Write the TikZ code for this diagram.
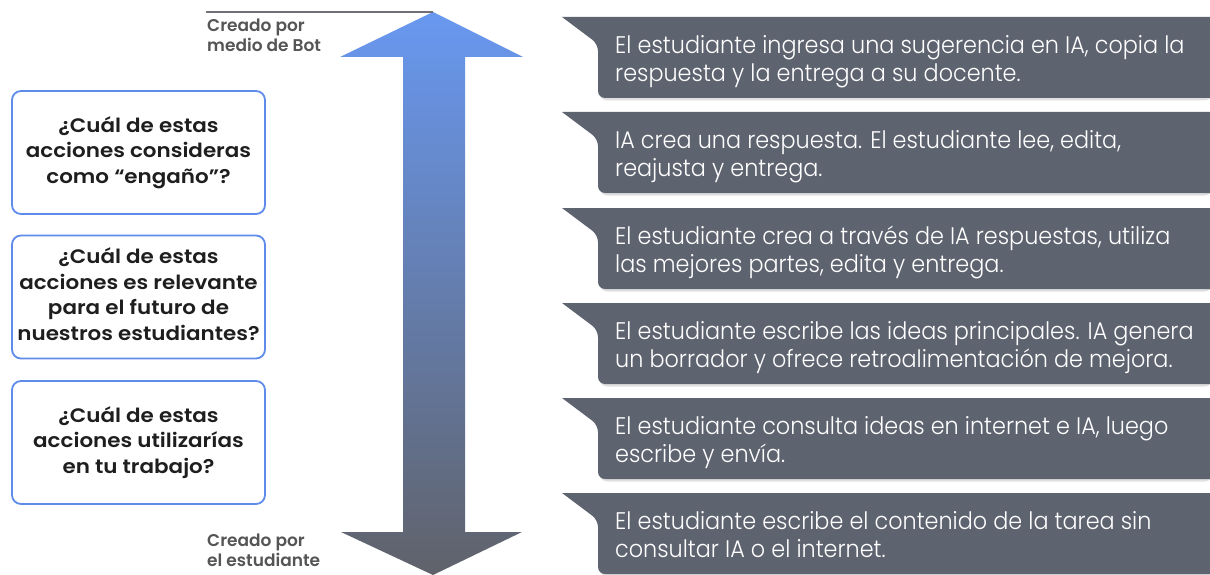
\documentclass[tikz,border=0pt]{standalone}
\usepackage{fontspec}
\setmainfont{Poppins}
\newfontfamily\poplight[FakeStretch=0.93]{Poppins Light}
\newfontfamily\popsemi[FakeStretch=1.1]{Poppins SemiBold}
\newfontfamily\poplab{Poppins SemiBold}
\definecolor{calloutgray}{RGB}{94,99,112}
\definecolor{boxblue}{RGB}{95,140,235}
\definecolor{arrowtop}{RGB}{104,152,240}
\definecolor{arrowbot}{RGB}{96,98,106}
\definecolor{labgray}{RGB}{85,85,85}
\definecolor{qtext}{RGB}{30,30,30}
\definecolor{linegray}{RGB}{112,112,118}
\tikzset{
  qbox/.style={draw=boxblue, line width=1.8pt, rounded corners=9pt, fill=white,
    minimum width=253pt, minimum height=123pt, inner sep=0pt},
  qtxt/.style={align=center, text=qtext, anchor=base, inner sep=0pt,
    font=\popsemi\fontsize{19.5}{25.5}\selectfont},
  lab/.style={text=labgray, align=left, anchor=base west, inner sep=0pt,
    font=\poplab\fontsize{17}{20}\selectfont},
  ctext/.style={text=white, align=left, anchor=base west, inner sep=0pt,
    font=\poplight\fontsize{24}{28.4}\selectfont},
}
\begin{document}
\begin{tikzpicture}[x=1pt,y=-1pt]
\useasboundingbox (0,0) rectangle (1210,575);
\fill[white] (0,0) rectangle (1210,575);

% big double arrow
\coordinate (toptip) at (433,12);
\coordinate (bottip) at (433,575);
\shade[top color=arrowtop, bottom color=arrowbot]
  (toptip) -- (523,57) -- (465,57) -- (465,532) -- (522,532) -- (bottip)
  -- (341,532) -- (403,532) -- (403,57) -- (340,57) -- cycle;
\coordinate (linestart) at (206,12);
\draw[linegray, line width=1.6pt] (linestart) -- (toptip);

\node[lab] (labtop) at (207,52) {Creado por\\medio de Bot};
\node[lab] (labbot) at (207,566) {Creado por\\el estudiante};

% question boxes
\node[qbox] (q1) at (138.5,152.5) {};
\node[qtxt] (t1) at (138.5,183) {¿Cuál de estas\\acciones consideras\\como “engaño”?};
\node[qbox] (q2) at (138.5,297) {};
\node[qtxt] (t2) at (138.5,340) {¿Cuál de estas\\acciones es relevante\\para el futuro de\\nuestros estudiantes?};
\node[qbox] (q3) at (138.5,442.5) {};
\node[qtxt] (t3) at (138.5,473) {¿Cuál de estas\\acciones utilizarías\\en tu trabajo?};

% callouts
\foreach \t/\n/\txt in {
  17/1/{El estudiante ingresa una sugerencia en IA, copia la\\respuesta y la entrega a su docente.},
  112/2/{IA crea una respuesta. El estudiante lee, edita,\\reajusta y entrega.},
  208/3/{El estudiante crea a través de IA respuestas, utiliza\\las mejores partes, edita y entrega.},
  303/4/{El estudiante escribe las ideas principales. IA genera\\un borrador y ofrece retroalimentación de mejora.},
  398/5/{El estudiante consulta ideas en internet e IA, luego\\escribe y envía.},
  493/6/{El estudiante escribe el contenido de la tarea sin\\consultar IA o el internet.}}
{
  \fill[black, opacity=0.12] (600,\t+78) [rounded corners=7pt] -- (600,\t+83.5) -- (1212,\t+83.5) [sharp corners] -- (1212,\t+78) -- cycle;
  \fill[calloutgray] (562,\t) -- (1212,\t) -- (1212,\t+81) [rounded corners=7pt] -- (598,\t+81)
    -- (598,\t+27) [sharp corners] -- (562,\t) -- cycle;
  \node[ctext] (c\n) at (615,\t+64.7) {\txt};
}
\end{tikzpicture}
\end{document}
